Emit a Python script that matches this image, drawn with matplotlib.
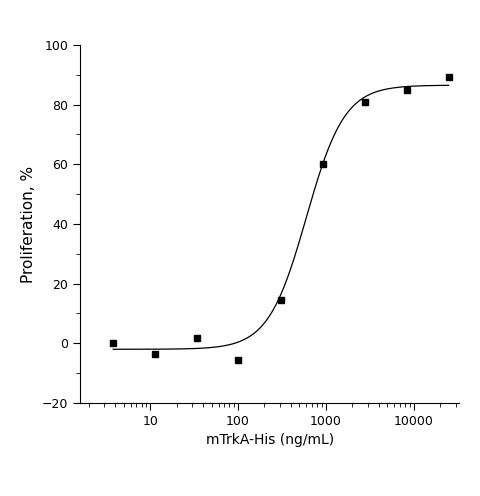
import numpy as np
import matplotlib.pyplot as plt
from matplotlib.ticker import LogLocator, MultipleLocator, NullFormatter

conc = [3.8, 11.4, 34, 100, 308, 925, 2780, 8300, 25000]
prolif = [0.0, -3.6, 1.8, -5.6, 14.5, 60.0, 81.0, 85.0, 89.4]

# 4PL fit parameters: bottom, top, EC50, hill
bottom, top, ec50, hill = -2.0, 86.5, 600.0, 2.0

fig = plt.figure(figsize=(4.8, 4.96), dpi=100)
ax = fig.add_axes([0.167, 0.1875, 0.79, 0.722])

xs = np.logspace(np.log10(3.8), np.log10(25000), 300)
ax.plot(xs, bottom + (top - bottom) / (1 + (ec50 / xs) ** hill), color="black", lw=0.9)
ax.plot(conc, prolif, "s", color="black", ms=4.5)

ax.set_xscale("log")
ax.set_xlim(1.6, 33000)
ax.set_ylim(-20, 100)
ax.yaxis.set_major_locator(MultipleLocator(20))
ax.yaxis.set_minor_locator(MultipleLocator(10))
ax.xaxis.set_major_locator(LogLocator(base=10, numticks=10))
ax.xaxis.set_minor_locator(LogLocator(base=10, subs=np.arange(2, 10), numticks=10))
ax.xaxis.set_minor_formatter(NullFormatter())
ax.set_xticks([10, 100, 1000, 10000])
ax.set_xticklabels(["10", "100", "1000", "10000"])

for s in ["top", "right"]:
    ax.spines[s].set_visible(False)
ax.tick_params(which="major", direction="out", length=5, labelsize=9)
ax.tick_params(which="minor", direction="out", length=3)

ax.set_xlabel("mTrkA-His (ng/mL)", fontsize=10)
ax.set_ylabel("Proliferation, %", fontsize=11)

fig.savefig("out.png", dpi=100)
